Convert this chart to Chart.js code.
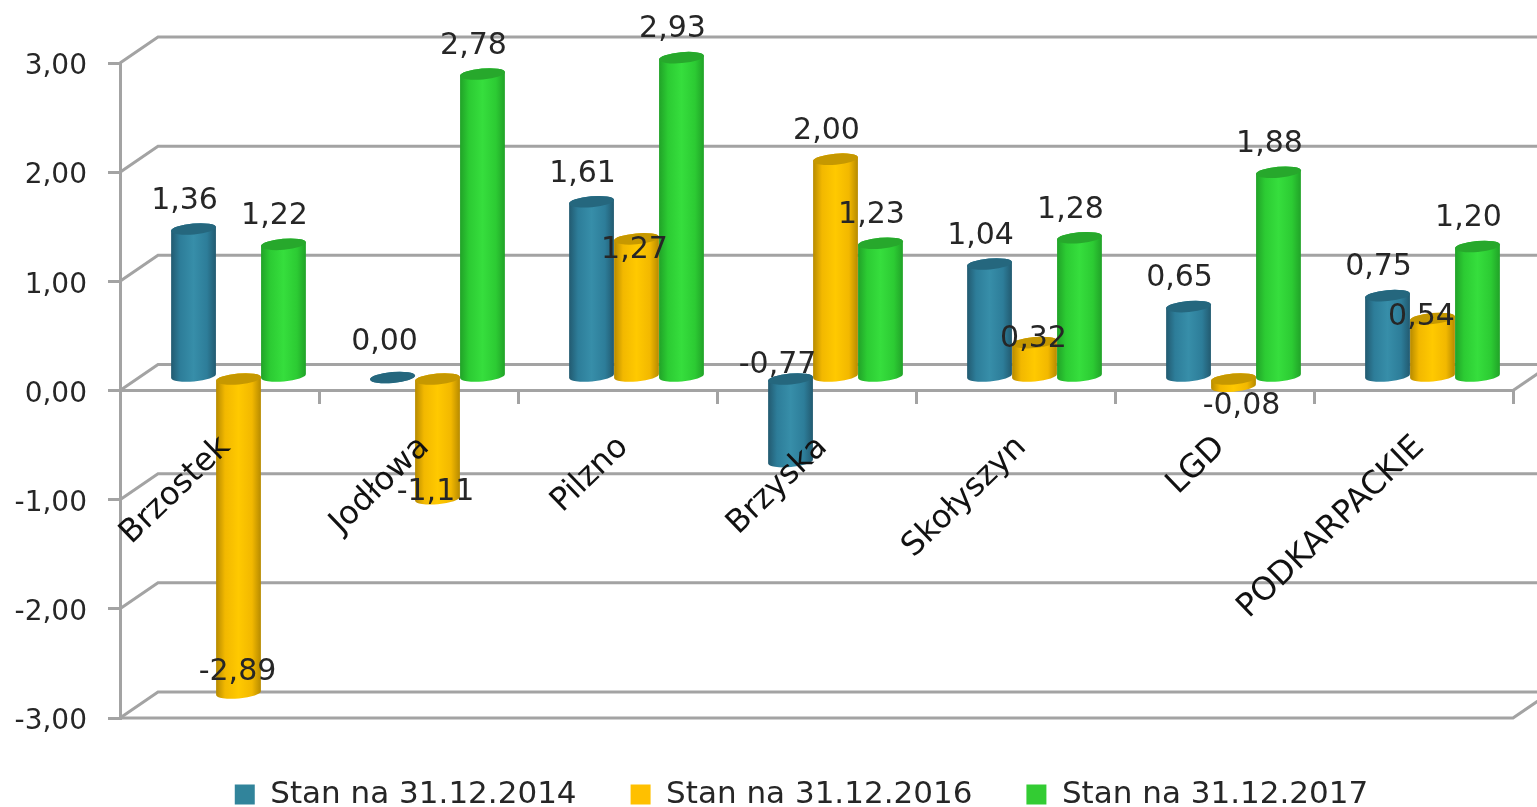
<!DOCTYPE html>
<html lang="pl">
<head>
<meta charset="utf-8">
<title>Stan na 31.12</title>
<script src="https://cdn.jsdelivr.net/npm/chart.js@4"></script>
<style>
    html, body { margin: 0; padding: 0; background: #fff; }
    canvas { display: block; }
</style>
</head>
<body>
<canvas id="chart" width="1537" height="807"></canvas>
<script>
const categories = ['Brzostek', 'Jodłowa', 'Pilzno', 'Brzyska', 'Skołyszyn', 'LGD', 'PODKARPACKIE'];
const seriesNames = ['Stan na 31.12.2014', 'Stan na 31.12.2016', 'Stan na 31.12.2017'];
const values2014 = [1.36, 0.00, 1.61, -0.77, 1.04, 0.65, 0.75];
const values2016 = [-2.89, -1.11, 1.27, 2.00, 0.32, -0.08, 0.54];
const values2017 = [1.22, 2.78, 2.93, 1.23, 1.28, 1.88, 1.20];

const FONT = '"DejaVu Sans", sans-serif';
const GRID = '#a3a3a3';
const TEXT = '#262626';

// Depth of the fake 3D box, and where the cylinders stand inside it
const WALL = { x: 38, y: -26 };
const BAR = { x: 19, y: -13 };
const TILT = -5 * Math.PI / 180;
const CAP_RY = 5.5;

// edge / body / centre / cap colours for each series
const shades = [
    { edge: '#225a70', body: '#2d7d99', mid: '#378ea9', cap: '#25677e' },
    { edge: '#b68a00', body: '#f2b800', mid: '#ffc900', cap: '#c69800' },
    { edge: '#21a228', body: '#2ccb33', mid: '#36de3d', cap: '#27a82c' }
];

// Label offsets from the cylinder: most sit up and to the left, a few were moved by hand in the original
const LABEL_DEFAULT = { x: -9, y: -28 };
const labelNudge = {
    '0:1': { x: -8, y: -35 },
    '0:3': { x: -13, y: -96 },
    '1:0': { x: -1, y: -21 },
    '1:1': { x: -2, y: -6 },
    '1:2': { x: -2, y: 11 },
    '1:4': { x: -1, y: -3 },
    '1:5': { x: 8, y: 20 },
    '1:6': { x: -11, y: -1 }
};

const fmt = v => v.toFixed(2).replace('.', ',');

function drawCylinder(ctx, bar, shade) {
    const rx = bar.width / 2;
    const cx = bar.x + BAR.x;
    const top = Math.min(bar.y, bar.base) + BAR.y;
    const bottom = Math.max(bar.y, bar.base) + BAR.y;

    const grad = ctx.createLinearGradient(cx - rx, 0, cx + rx, 0);
    grad.addColorStop(0, shade.edge);
    grad.addColorStop(0.2, shade.body);
    grad.addColorStop(0.5, shade.mid);
    grad.addColorStop(0.8, shade.body);
    grad.addColorStop(1, shade.edge);

    ctx.beginPath();
    ctx.ellipse(cx, bottom, rx, CAP_RY, TILT, 0, Math.PI, false);
    ctx.ellipse(cx, top, rx, CAP_RY, TILT, Math.PI, 0, false);
    ctx.closePath();
    ctx.fillStyle = grad;
    ctx.fill();

    ctx.beginPath();
    ctx.ellipse(cx, top, rx, CAP_RY, TILT, 0, Math.PI * 2);
    ctx.fillStyle = shade.cap;
    ctx.fill();
}

const box3d = {
    id: 'box3d',
    // the legend sits right of the canvas centre and a little lower than Chart.js puts it
    afterLayout(chart) {
        chart.legend.left += 90;
        chart.legend.top += 7;
    },
    beforeDatasetsDraw(chart) {
        const { ctx, chartArea, scales } = chart;
        ctx.save();
        ctx.strokeStyle = GRID;
        ctx.lineWidth = 3;
        // back wall lines with their slanted link to the front axis
        scales.y.ticks.forEach(t => {
            const y = scales.y.getPixelForValue(t.value);
            ctx.beginPath();
            ctx.moveTo(chartArea.left, y);
            ctx.lineTo(chartArea.left + WALL.x, y + WALL.y);
            ctx.lineTo(chartArea.right + WALL.x, y + WALL.y);
            ctx.stroke();
        });
        // floor at the bottom of the box
        const floor = scales.y.getPixelForValue(scales.y.min);
        ctx.beginPath();
        ctx.moveTo(chartArea.left, floor);
        ctx.lineTo(chartArea.right, floor);
        ctx.lineTo(chartArea.right + WALL.x, floor + WALL.y);
        ctx.stroke();
        // right end of the zero plane
        const zero = scales.y.getPixelForValue(0);
        ctx.beginPath();
        ctx.moveTo(chartArea.right, zero);
        ctx.lineTo(chartArea.right + WALL.x, zero + WALL.y);
        ctx.stroke();
        ctx.restore();

        ctx.save();
        chart.data.datasets.forEach((ds, i) => {
            chart.getDatasetMeta(i).data.forEach(bar => drawCylinder(ctx, bar, shades[i]));
        });
        ctx.restore();
    },
    // cylinders are already painted above
    beforeDatasetDraw() {
        return false;
    },
    afterDatasetsDraw(chart) {
        const { ctx } = chart;
        ctx.save();
        ctx.font = '30px ' + FONT;
        ctx.fillStyle = TEXT;
        ctx.textAlign = 'center';
        ctx.textBaseline = 'middle';
        chart.data.datasets.forEach((ds, i) => {
            chart.getDatasetMeta(i).data.forEach((bar, j) => {
                const off = labelNudge[i + ':' + j] || LABEL_DEFAULT;
                const edge = ds.data[j] < 0 ? bar.y : Math.min(bar.y, bar.base);
                ctx.fillText(fmt(ds.data[j]), bar.x + BAR.x + off.x, edge + BAR.y + off.y);
            });
        });
        ctx.restore();
    }
};

new Chart(document.getElementById('chart'), {
    type: 'bar',
    data: {
        labels: categories,
        datasets: [
            { label: seriesNames[0], data: values2014, backgroundColor: '#31849b' },
            { label: seriesNames[1], data: values2016, backgroundColor: '#ffc000' },
            { label: seriesNames[2], data: values2017, backgroundColor: '#33cc33' }
        ]
    },
    plugins: [box3d],
    options: {
        responsive: false,
        animation: false,
        layout: { padding: { top: 63, right: 24, bottom: 0, left: 0 } },
        datasets: { bar: { categoryPercentage: 0.678, barPercentage: 1 } },
        scales: {
            x: {
                position: { y: 0 },
                offset: true,
                grid: { drawOnChartArea: false, color: GRID, lineWidth: 3, tickLength: 12, offset: true },
                border: { color: GRID, width: 3 },
                ticks: {
                    z: 1,
                    color: '#111',
                    font: { family: FONT, size: 32 },
                    autoSkip: false,
                    minRotation: 44,
                    maxRotation: 44,
                    labelOffset: 6,
                    padding: 26
                }
            },
            y: {
                min: -3,
                max: 3,
                afterFit(scale) { scale.width = 120; },
                grid: { drawOnChartArea: false, color: GRID, lineWidth: 3, tickLength: 12 },
                border: { color: GRID, width: 3 },
                ticks: {
                    stepSize: 1,
                    color: TEXT,
                    font: { family: FONT, size: 28 },
                    padding: 21,
                    labelOffset: 4,
                    callback: v => fmt(v)
                }
            }
        },
        plugins: {
            tooltip: { enabled: false },
            legend: {
                position: 'bottom',
                maxHeight: 89,
                labels: {
                    color: TEXT,
                    font: { family: FONT, size: 31 },
                    boxWidth: 20,
                    boxHeight: 20,
                    padding: 54
                }
            }
        }
    }
});
</script>
</body>
</html>
